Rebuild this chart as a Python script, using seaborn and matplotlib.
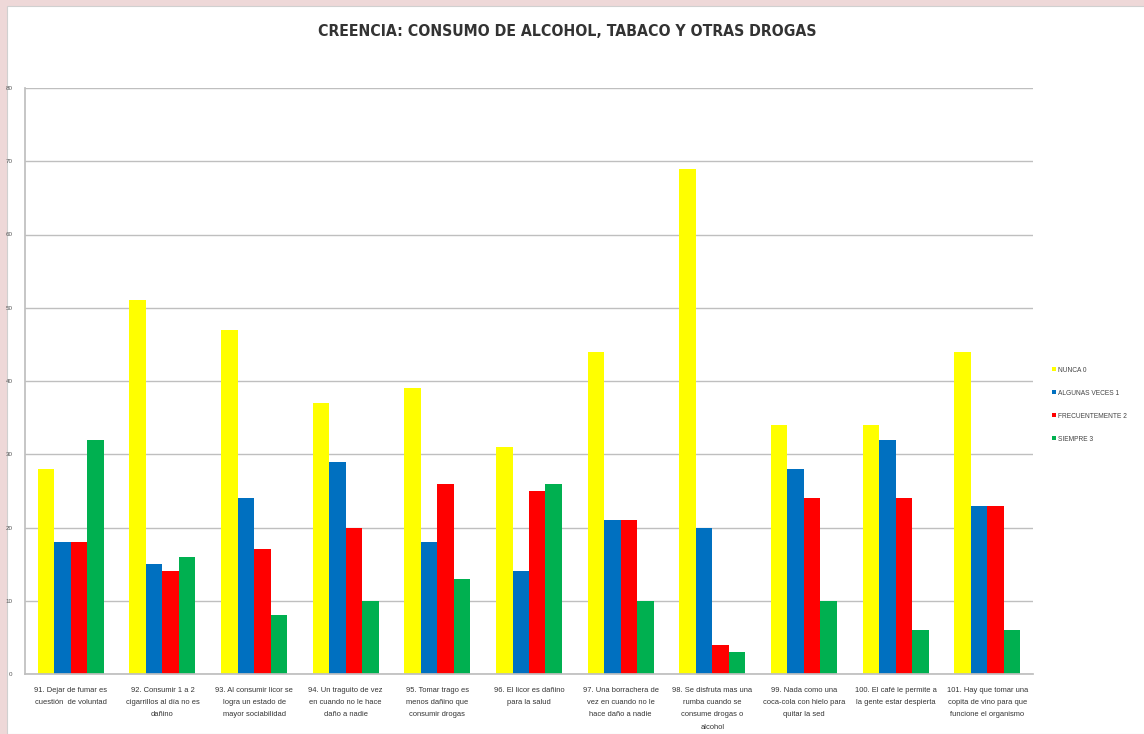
import matplotlib
matplotlib.use("Agg")
import matplotlib.pyplot as plt
import matplotlib.patches as mpatches
import seaborn as sns
import pandas as pd

categories = [
    "91. Dejar de fumar es\ncuestión  de voluntad",
    "92. Consumir 1 a 2\ncigarrillos al día no es\ndañino",
    "93. Al consumir licor se\nlogra un estado de\nmayor sociabilidad",
    "94. Un traguito de vez\nen cuando no le hace\ndaño a nadie",
    "95. Tomar trago es\nmenos dañino que\nconsumir drogas",
    "96. El licor es dañino\npara la salud",
    "97. Una borrachera de\nvez en cuando no le\nhace daño a nadie",
    "98. Se disfruta mas una\nrumba cuando se\nconsume drogas o\nalcohol",
    "99. Nada como una\ncoca-cola con hielo para\nquitar la sed",
    "100. El café le permite a\nla gente estar despierta",
    "101. Hay que tomar una\ncopita de vino para que\nfuncione el organismo",
]
series = ["NUNCA 0", "ALGUNAS VECES 1", "FRECUENTEMENTE 2", "SIEMPRE 3"]
nunca = [28, 51, 47, 37, 39, 31, 44, 69, 34, 34, 44]
algunas = [18, 15, 24, 29, 18, 14, 21, 20, 28, 32, 23]
frecuente = [18, 14, 17, 20, 26, 25, 21, 4, 24, 24, 23]
siempre = [32, 16, 8, 10, 13, 26, 10, 3, 10, 6, 6]
yticks = [0, 10, 20, 30, 40, 50, 60, 70, 80]

palette = ["#FFFF00", "#0070C0", "#FF0000", "#00B050"]

rows = []
for s, vals in zip(series, [nunca, algunas, frecuente, siempre]):
    for c, v in zip(categories, vals):
        rows.append({"categoria": c, "respuesta": s, "valor": v})
df = pd.DataFrame(rows)

sns.set_theme(style="white")
plt.rcParams["font.family"] = ["Liberation Sans", "DejaVu Sans"]

W, H = 1144, 734
fig = plt.figure(figsize=(W / 100, H / 100), dpi=100)
fig.patch.set_facecolor("#EED8D8")
# white chart sheet inside the pink frame
fig.add_artist(mpatches.Rectangle((7 / W, 0), 1, 1 - 6 / H, transform=fig.transFigure,
                                  facecolor="white", edgecolor="#D0D0D0", lw=0.8, zorder=0))

ax = fig.add_axes([25 / W, 1 - 674 / H, (1033 - 25) / W, (674 - 88) / H])
sns.barplot(data=df, x="categoria", y="valor", hue="respuesta",
            order=categories, hue_order=series, palette=palette, saturation=1,
            width=0.72, ax=ax, edgecolor="none")

ax.set_ylim(0, 80)
ax.set_xlim(-0.5, len(categories) - 0.5)
ax.set_yticks(yticks)
ax.set_yticklabels([str(t) for t in yticks], fontsize=4.5, color="#555555")
ax.tick_params(axis="y", length=0, pad=9)
ax.tick_params(axis="x", length=0, pad=9)
ax.set_xticks(range(len(categories)))
ax.set_xticklabels(categories, fontsize=5.4, color="#333333", linespacing=2.1)
ax.set_xlabel("")
ax.set_ylabel("")
ax.yaxis.grid(True, color="#BFBFBF", lw=1.0)
ax.set_axisbelow(True)
for side in ["top", "right"]:
    ax.spines[side].set_visible(False)
ax.spines["left"].set_color("#BFBFBF")
ax.spines["bottom"].set_color("#BFBFBF")
ax.patch.set_alpha(0)

leg = ax.legend(loc="upper left", bbox_to_anchor=(1049 / W, 1 - 364 / H),
                bbox_transform=fig.transFigure, frameon=False, fontsize=4.8,
                handlelength=0.6, handleheight=0.6, handletextpad=0.3,
                labelspacing=2.4, borderaxespad=0)
for t in leg.get_texts():
    t.set_color("#444444")

fig.text(567 / W, 1 - 31 / H, "CREENCIA: CONSUMO DE ALCOHOL, TABACO Y OTRAS DROGAS",
         ha="center", va="center", fontsize=11.3, fontweight="bold", color="#333333",
         family=["DejaVu Sans"], stretch="condensed")

fig.savefig("out.png", dpi=100, facecolor=fig.get_facecolor())
